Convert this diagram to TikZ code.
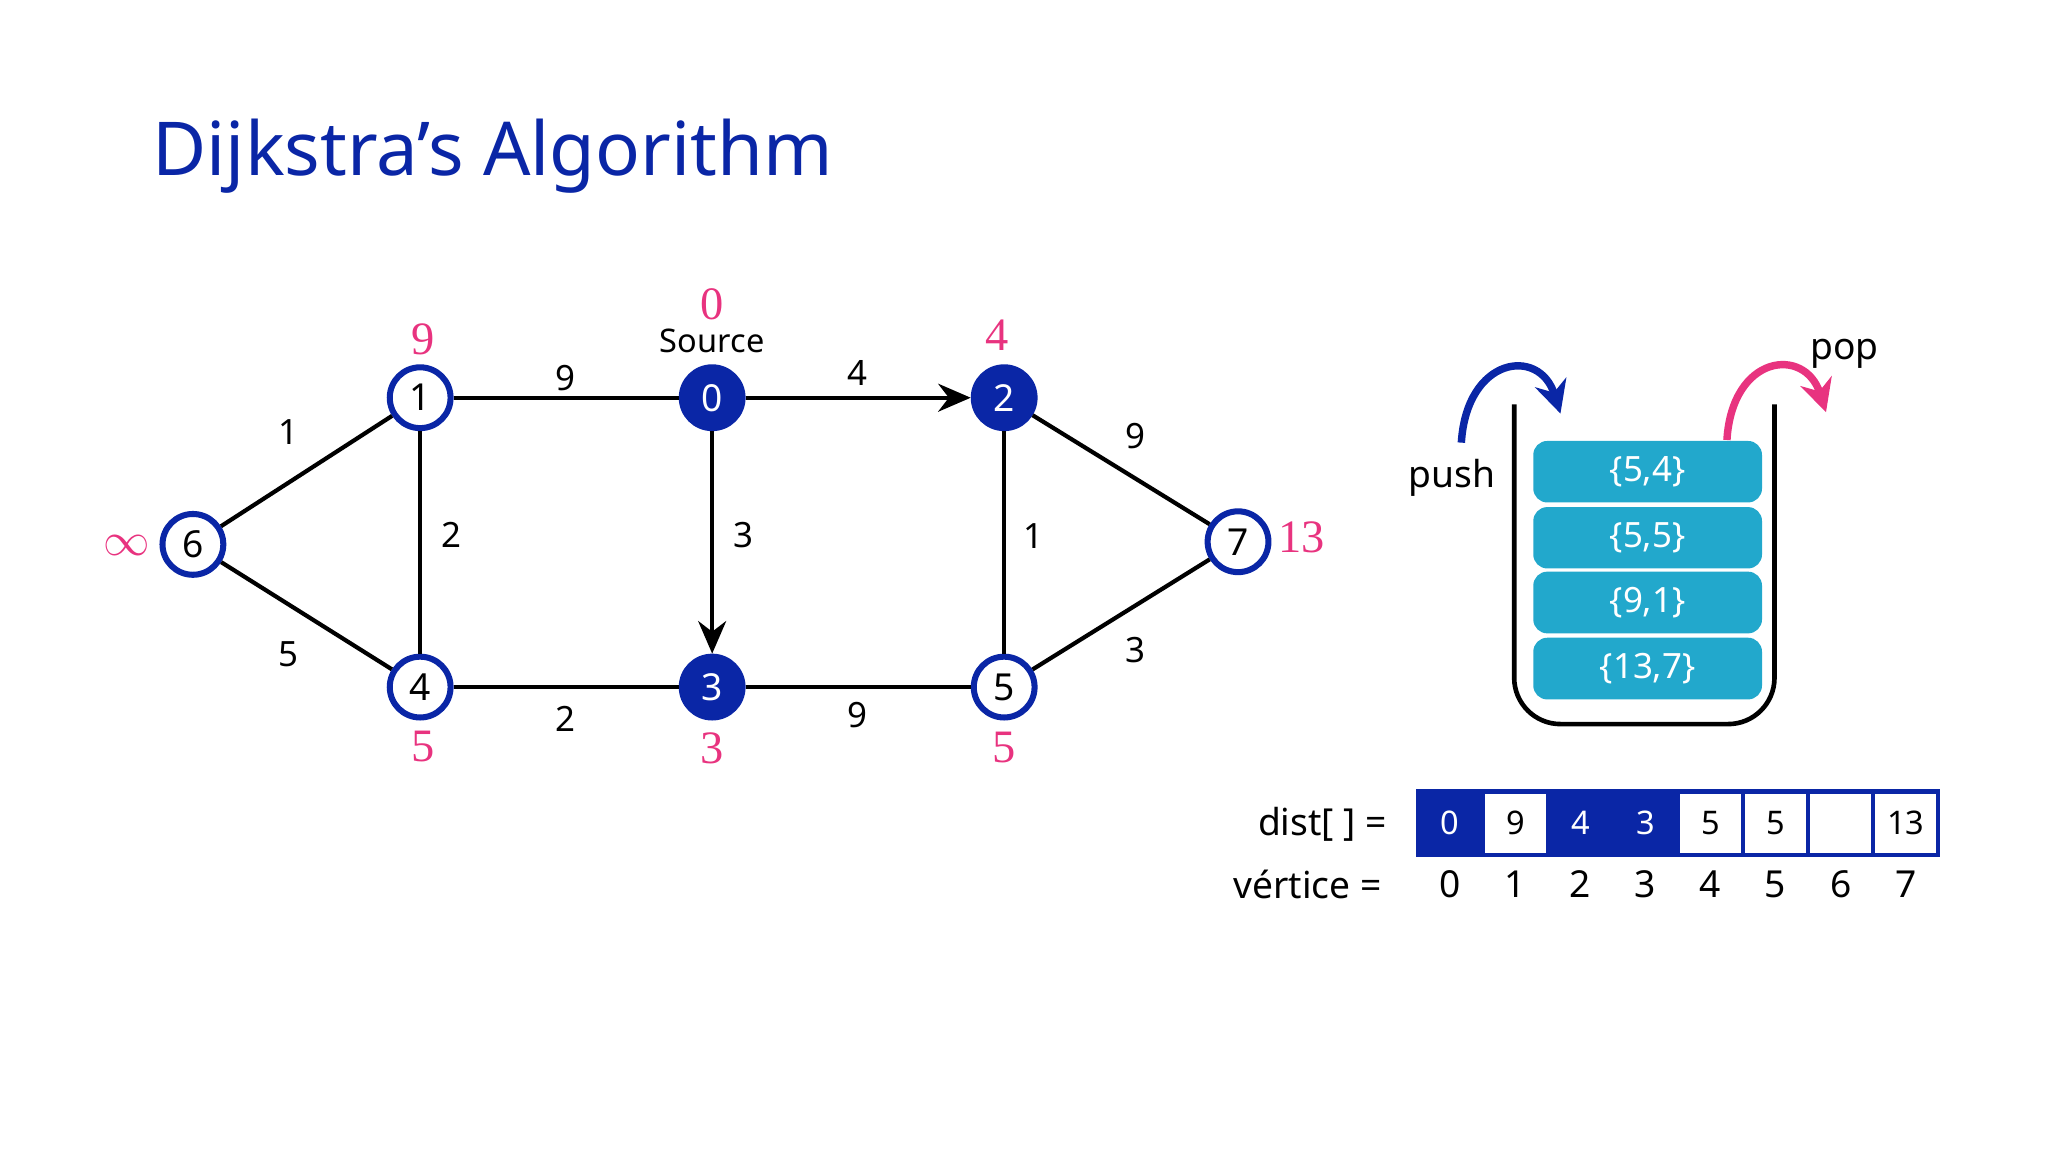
\documentclass[tikz,border=0pt]{standalone}
\usepackage{fontspec}
\setmainfont{Noto Sans}
\newfontfamily\serifpink{Liberation Serif}
\usetikzlibrary{arrows.meta}
\definecolor{dblue}{HTML}{0A26A6}
\definecolor{pinkc}{HTML}{E8337F}
\definecolor{teal}{HTML}{22A8CC}
\begin{document}
\begin{tikzpicture}[x=0.01cm,y=-0.01cm,
  vtx/.style={circle,draw=dblue,line width=1.3pt,fill=white,minimum size=0.46cm,inner sep=0pt,font=\fontsize{8}{9}\selectfont},
  done/.style={vtx,fill=dblue,text=white},
  dl/.style={text=pinkc,font=\serifpink\fontsize{10}{11}\selectfont},
  el/.style={font=\fontsize{7.5}{9}\selectfont},
  edge/.style={line width=0.9pt},
  arr/.style={edge,-{Stealth[length=7pt,width=6pt]}},
  box/.style={fill=teal,rounded corners=3pt,minimum width=1.73cm,minimum height=0.4cm,text=white,font=\fontsize{7.5}{9}\selectfont},
  cell/.style={draw=dblue,line width=0.9pt,minimum width=0.4925cm,minimum height=0.48cm,inner sep=0pt,font=\bfseries\fontsize{7}{8}\selectfont},
  cfill/.style={cell,fill=dblue,text=white}]
\useasboundingbox (0,0) rectangle (1550,872);
\node[anchor=west,text=dblue,font=\bfseries\fontsize{16}{18}\selectfont] (title) at (103,118) {Dijkstra's Algorithm};
% vertices
\node[done] (v0) at (539,301) {0};
\node[vtx] (v1) at (318,301) {1};
\node[done] (v2) at (760,301) {2};
\node[done] (v3) at (539,520) {3};
\node[vtx] (v4) at (318,520) {4};
\node[vtx] (v5) at (760,520) {5};
\node[vtx] (v6) at (146,412) {6};
\node[vtx] (v7) at (937,410) {7};
% edges
\draw[edge] (v1) -- (v6);
\draw[edge] (v6) -- (v4);
\draw[edge] (v1) -- (v0);
\draw[edge] (v1) -- (v4);
\draw[edge] (v4) -- (v3);
\draw[edge] (v3) -- (v5);
\draw[edge] (v2) -- (v5);
\draw[edge] (v2) -- (v7);
\draw[edge] (v5) -- (v7);
\draw[arr] (v0) -- (v2);
\draw[arr] (v0) -- (v3);
% edge labels
\node[el] (e16) at (218,327) {1};
\node[el] (e10) at (428,286) {9};
\node[el] (e02) at (649,282) {4};
\node[el] (e27) at (859,330) {9};
\node[el] (e14) at (342,405) {2};
\node[el] (e03) at (563,405) {3};
\node[el] (e25) at (782,406) {1};
\node[el] (e64) at (218,495) {5};
\node[el] (e43) at (428,544) {2};
\node[el] (e35) at (649,541) {9};
\node[el] (e57) at (859,492) {3};
% distance labels
\node[dl] (d0) at (539,230) {0};
\node[font=\fontsize{7}{8}\selectfont] (src) at (539,258) {Source};
\node[dl] (d1) at (320,257) {9};
\node[dl] (d2) at (755,254) {4};
\node[dl] (d6) at (96,413) {$\infty$};
\node[dl] (d7) at (985,407) {13};
\node[dl] (d4) at (320,565) {5};
\node[dl] (d3) at (539,566) {3};
\node[dl] (d5) at (760,566) {5};
% stack
\draw[line width=1pt,rounded corners=0.35cm] (1146,306) -- (1146,548) -- (1343,548) -- (1343,306);
\node[box] (b1) at (1247,357) {\{5,4\}};
\node[box] (b2) at (1247,407) {\{5,5\}};
\node[box] (b3) at (1247,456) {\{9,1\}};
\node[box] (b4) at (1247,506) {\{13,7\}};
\coordinate (pushs) at (1106,335);
\coordinate (pushe) at (1181,313);
\coordinate (pops) at (1307,333);
\coordinate (pope) at (1382,312);
\draw[dblue,line width=1.6pt,-{Stealth[length=7pt,width=7pt]}] (pushs) .. controls (1110,270) and (1165,262) .. (pushe);
\draw[pinkc,line width=1.6pt,-{Stealth[length=7pt,width=7pt]}] (pops) .. controls (1311,268) and (1366,262) .. (pope);
\node[font=\fontsize{8}{9}\selectfont] (push) at (1099,362) {push};
\node[font=\fontsize{8}{9}\selectfont] (pop) at (1396,268) {pop};
% dist array
\foreach \i/\v/\s in {0/0/cfill,1/9/cell,2/4/cfill,3/3/cfill,4/5/cell,5/5/cell,6/{}/cell,7/13/cell}{
  \node[\s] (c\i) at ({1097.6+49.25*\i},623) {\v};
  \node[font=\fontsize{8}{9}\selectfont] (n\i) at ({1097.6+49.25*\i},669) {\i};
}
\node[anchor=east,font=\fontsize{8}{9}\selectfont] (distl) at (1062,624) {dist[ ] =};
\node[anchor=east,font=\fontsize{8}{9}\selectfont] (vertl) at (1058,669) {vértice =};
\end{tikzpicture}
\end{document}
